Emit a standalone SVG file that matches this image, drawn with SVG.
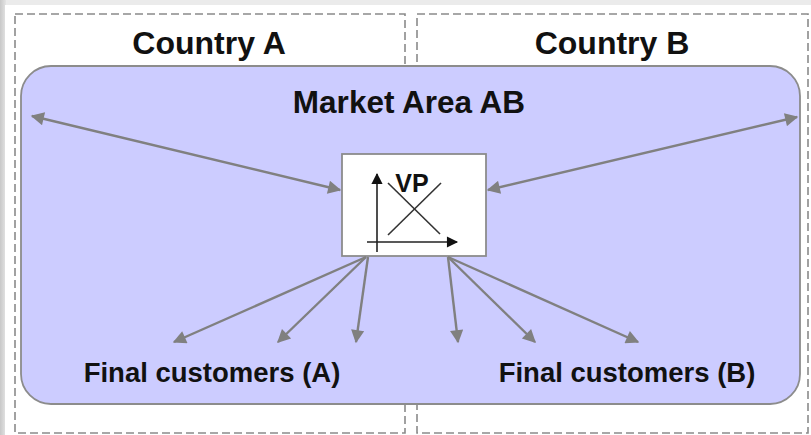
<svg xmlns="http://www.w3.org/2000/svg" width="811" height="435" viewBox="0 0 811 435">
  <defs>
    <style>
      .country { fill: none; stroke: #8a8a8a; stroke-width: 1.6; stroke-dasharray: 8 4; }
      .market { fill: #ccccff; stroke: #8c8c8c; stroke-width: 1.8; }
      .vpbox { fill: #ffffff; stroke: #8c8c8c; stroke-width: 1.8; }
      .label { font-family: "Liberation Sans", Arial, sans-serif; font-weight: bold; fill: #111111; text-anchor: middle; }
      .link { stroke: #808080; stroke-width: 2.4; fill: none; }
      .axis { stroke: #222222; stroke-width: 1.6; fill: none; }
      .curve { stroke: #333333; stroke-width: 1.6; fill: none; }
    </style>
    <marker id="head" viewBox="0 0 10 10" refX="9" refY="5" markerWidth="6.5" markerHeight="5.5" markerUnits="strokeWidth" orient="auto-start-reverse">
      <path d="M0,0 L10,5 L0,10 z" fill="#808080"/>
    </marker>
    <marker id="axisHead" viewBox="0 0 10 10" refX="9" refY="5" markerWidth="8" markerHeight="7" markerUnits="strokeWidth" orient="auto">
      <path d="M0,0 L10,5 L0,10 z" fill="#111111"/>
    </marker>
    <linearGradient id="edge" x1="0" y1="0" x2="1" y2="0">
      <stop offset="0" stop-color="#c8c8c8"/>
      <stop offset="1" stop-color="#e4e4e4"/>
    </linearGradient>
  </defs>

  <!-- page frame -->
  <rect x="0" y="0" width="811" height="435" fill="#ebebeb"/>
  <rect x="0" y="0" width="6" height="435" fill="url(#edge)"/>
  <rect x="5" y="5" width="806" height="430" fill="#ffffff"/>

  <!-- countries -->
  <g id="country-a">
    <rect class="country" x="15" y="14" width="390" height="419"/>
    <text class="label" x="209" y="54" font-size="32">Country A</text>
  </g>
  <g id="country-b">
    <rect class="country" x="417" y="14" width="391" height="419"/>
    <text class="label" x="612" y="54" font-size="32">Country B</text>
  </g>

  <!-- shared market area -->
  <g id="market-area">
    <rect class="market" x="21" y="66" width="779" height="338" rx="30" ry="30"/>
    <text class="label" x="409" y="113" font-size="31.5">Market Area AB</text>
  </g>

  <!-- virtual trading point -->
  <g id="vp">
    <rect class="vpbox" x="342" y="154" width="144" height="102"/>
    <line class="axis" x1="377" y1="252" x2="377" y2="174" marker-end="url(#axisHead)"/>
    <line class="axis" x1="367" y1="242" x2="457" y2="242" marker-end="url(#axisHead)"/>
    <line class="curve" x1="388" y1="183" x2="440" y2="234"/>
    <line class="curve" x1="388" y1="235" x2="441" y2="183"/>
    <text class="label" x="412" y="192" font-size="25">VP</text>
  </g>

  <g id="customers-a">
    <text class="label" x="212" y="382" font-size="27.5">Final customers (A)</text>
  </g>
  <g id="customers-b">
    <text class="label" x="627" y="382" font-size="27.5">Final customers (B)</text>
  </g>

  <!-- flows -->
  <g id="connectors">
    <line class="link" x1="32" y1="116" x2="340" y2="190" marker-start="url(#head)" marker-end="url(#head)"/>
    <line class="link" x1="488" y1="190" x2="797" y2="117" marker-start="url(#head)" marker-end="url(#head)"/>
    <line class="link" x1="366" y1="257" x2="174" y2="342" marker-end="url(#head)"/>
    <line class="link" x1="366" y1="257" x2="278" y2="342" marker-end="url(#head)"/>
    <line class="link" x1="368" y1="257" x2="356" y2="342" marker-end="url(#head)"/>
    <line class="link" x1="448" y1="257" x2="458" y2="342" marker-end="url(#head)"/>
    <line class="link" x1="448" y1="257" x2="535" y2="342" marker-end="url(#head)"/>
    <line class="link" x1="448" y1="257" x2="638" y2="342" marker-end="url(#head)"/>
  </g>
</svg>
